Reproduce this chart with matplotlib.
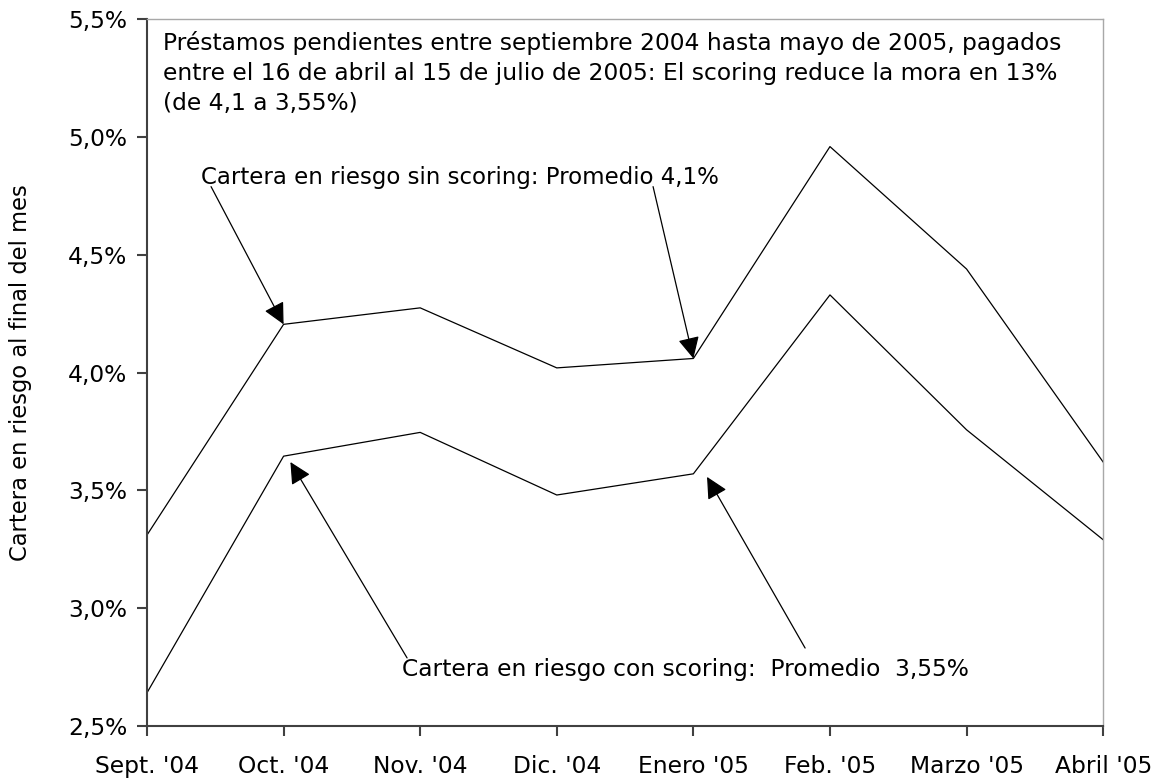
import numpy as np
import matplotlib.pyplot as plt

months = ["Sept. '04", "Oct. '04", "Nov. '04", "Dic. '04",
          "Enero '05", "Feb. '05", "Marzo '05", "Abril '05"]
sin_scoring = [3.31, 4.205, 4.275, 4.02, 4.06, 4.96, 4.44, 3.62]
con_scoring = [2.64, 3.645, 3.746, 3.48, 3.57, 4.33, 3.757, 3.29]
y_ticks = [2.5, 3.0, 3.5, 4.0, 4.5, 5.0, 5.5]

titulo = ("Préstamos pendientes entre septiembre 2004 hasta mayo de 2005, pagados\n"
          "entre el 16 de abril al 15 de julio de 2005: El scoring reduce la mora en 13%\n"
          "(de 4,1 a 3,55%)")
label_sin = "Cartera en riesgo sin scoring: Promedio 4,1%"
label_con = "Cartera en riesgo con scoring:  Promedio  3,55%"

FS = 16.8

fig = plt.figure(figsize=(11.52, 7.79), dpi=100)
ax = fig.add_axes([0.1276, 0.0684, 0.83, 0.9066])

x = np.arange(len(months))
ax.plot(x, sin_scoring, color="black", linewidth=0.9)
ax.plot(x, con_scoring, color="black", linewidth=0.9)

ax.set_xlim(0, len(months) - 1)
ax.set_ylim(y_ticks[0], y_ticks[-1])
ax.set_xticks(x)
ax.set_xticklabels(months, fontsize=FS)
ax.set_yticks(y_ticks)
ax.set_yticklabels(["{0:.1f}%".format(v).replace(".", ",") for v in y_ticks], fontsize=FS)
ax.tick_params(axis="x", direction="out", length=7, width=1.5, color="#404040", pad=14)
ax.tick_params(axis="y", direction="out", length=7, width=1.5, color="#404040", pad=7)

for side in ["left", "bottom"]:
    ax.spines[side].set_color("#404040")
    ax.spines[side].set_linewidth(1.5)
for side in ["top", "right"]:
    ax.spines[side].set_color("#a8a8a8")
    ax.spines[side].set_linewidth(1.0)

ax.set_ylabel("Cartera en riesgo al final del mes", fontsize=FS - 0.5, labelpad=26)

ax.text(0.017, 0.984, titulo, transform=ax.transAxes, fontsize=FS,
        va="top", ha="left", linespacing=1.4)

# etiquetas y flechas
ax.text(0.395, 4.83, label_sin, fontsize=FS - 0.3, va="center", ha="left")
ax.text(1.867, 2.737, label_con, fontsize=FS, va="center", ha="left")

arrow = dict(arrowstyle="-|>,head_length=0.6,head_width=0.3", color="black",
             linewidth=0.9, mutation_scale=22, shrinkA=0, shrinkB=0)
ax.annotate("", xy=(1, sin_scoring[1]), xytext=(0.469, 4.79), arrowprops=arrow)
ax.annotate("", xy=(4, sin_scoring[4]), xytext=(3.705, 4.79), arrowprops=arrow)
ax.annotate("", xy=(1.05, 3.62), xytext=(1.904, 2.788), arrowprops=arrow)
ax.annotate("", xy=(4.10, 3.557), xytext=(4.818, 2.83), arrowprops=arrow)

plt.savefig("out.png", dpi=100)
